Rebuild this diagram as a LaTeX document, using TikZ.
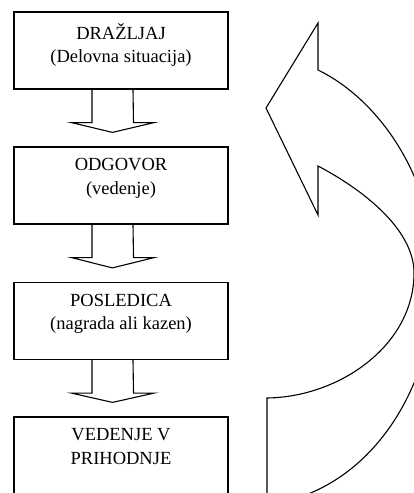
\documentclass[tikz,border=0pt]{standalone}
\usepackage{fontspec}
\setmainfont{Liberation Serif}
\usetikzlibrary{calc}
\begin{document}
\begin{tikzpicture}[x=1pt,y=-1pt,
  box/.style={draw=black,line width=1.2pt,minimum width=214pt,minimum height=77pt,inner sep=0pt},
  boxtxt/.style={anchor=north,align=center,inner sep=0pt,font=\fontsize{18.5}{23.5}\selectfont},
  blockarrow/.style={draw=black,line width=1.1pt,line join=miter},
  bigarrow/.style={draw=black,line width=1.1pt,fill=white,line join=miter}]
\useasboundingbox (0,0) rectangle (414,493);
\begin{scope}
\clip (0,0) rectangle (414,493);
% boxes
\node[box] (b1) at (121,50.5) {};
\node[box] (b2) at (121,185.5) {};
\node[box] (b3) at (121,321) {};
\node[box,minimum height=100pt] (b4) at (121,467) {};
% texts
\node[boxtxt] (t1) at ($(b1.north)+(0,12)$) {DRAŽLJAJ\\(Delovna situacija)};
\node[boxtxt] (t2) at ($(b2.north)+(0,12)$) {ODGOVOR\\(vedenje)};
\node[boxtxt] (t3) at ($(b3.north)+(0,12)$) {POSLEDICA\\(nagrada ali kazen)};
\node[boxtxt] (t4) at ($(b4.north)+(0,12)$) {VEDENJE V\\PRIHODNJE};
% block arrows between boxes
\foreach \a/\b in {b1/b2,b2/b3,b3/b4}{
  \draw[blockarrow] ($(\a.south)+(-29,0)$) -- ++(0,33) -- ++(-20.5,0)
     -- ($(\b.north)+(-8.5,-14)$) -- ($(\a.south)+(33,33)$) -- ++(-20.5,0)
     -- ($(\a.south)+(12,0)$);
}
% big curved arrow
\coordinate (tip) at (266,108);
\coordinate (htop) at (318,23);
\coordinate (hin) at (318,70);
\coordinate (hbot) at (318,215);
\coordinate (iin) at (318,166);
\coordinate (oright) at (435,276);
\coordinate (oend) at (300,497);
\coordinate (tailout) at (267,497);
\coordinate (tailin) at (267,398);
\coordinate (iright) at (414,273);
\draw[bigarrow] (tip) -- (htop) -- (hin)
  .. controls (380,100) and (435,180) .. (oright)
  .. controls (435,380) and (380,470) .. (oend)
  -- (tailout) -- (tailin)
  .. controls (340,397) and (414,345) .. (iright)
  .. controls (414,228) and (360,188) .. (iin)
  -- (hbot) -- cycle;
\end{scope}
\end{tikzpicture}
\end{document}
